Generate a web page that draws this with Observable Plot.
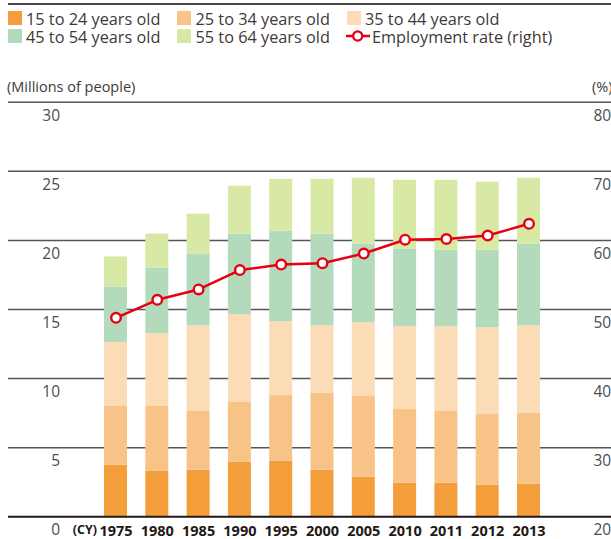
<!DOCTYPE html>
<html>
<head>
<meta charset="utf-8">
<script src="https://cdn.jsdelivr.net/npm/d3@7"></script>
<script src="https://cdn.jsdelivr.net/npm/@observablehq/plot@0.6"></script>
<style>
  html, body { margin: 0; padding: 0; background: #fff; overflow: hidden; }
  body { font-family: 'Open Sans', sans-serif; color: #3e3a39; }
  #wrap { position: relative; width: 611px; height: 539px; }
  #legend { position: relative; width: 611px; height: 60px; }
  .topline { position: absolute; left: 8px; right: 0; top: 3.4px; height: 2px; background: #4a4a4a; }
  .sw { position: absolute; width: 14px; height: 14px; }
  .lt { position: absolute; font-size: 16.3px; line-height: 1; white-space: nowrap; color: #3e3a39; }
  .hdr { position: absolute; font-size: 14.5px; line-height: 1; white-space: nowrap; color: #3e3a39; }
  #chart { position: absolute; left: 0; top: 60px; }
  .cy { position: absolute; font-size: 12.5px; font-weight: bold; line-height: 1; color: #231815; white-space: nowrap; }
</style>
</head>
<body>
<div id="wrap">
  <div id="legend"></div>
  <div id="chart"></div>
</div>
<script>
// ---- data ----
const years = ["1975","1980","1985","1990","1995","2000","2005","2010","2011","2012","2013"];
const groups = ["15 to 24 years old","25 to 34 years old","35 to 44 years old","45 to 54 years old","55 to 64 years old"];
const age15to24 = [3.73,3.29,3.37,3.94,4.01,3.37,2.86,2.43,2.43,2.28,2.36];
const age25to34 = [4.25,4.69,4.25,4.33,4.76,5.55,5.84,5.33,5.19,5.12,5.12];
const age35to44 = [4.62,5.27,6.20,6.35,5.34,4.90,5.34,5.99,6.13,6.28,6.34];
const age45to54 = [4.03,4.75,5.19,5.84,6.56,6.64,5.70,5.63,5.55,5.62,5.92];
const age55to64 = [2.17,2.46,2.89,3.46,3.75,3.96,4.76,4.97,5.05,4.91,4.76];
const employmentRate = [48.8,51.4,52.9,55.7,56.5,56.7,58.1,60.1,60.2,60.7,62.4];
const leftTicks = [0,5,10,15,20,25,30];
const leftTickLabels = ["0","5","10","15","20","25","30"];
const rightTickLabels = ["20","30","40","50","60","70","80"];
const rateLabel = "Employment rate (right)";
const leftUnit = "(Millions of people)";
const rightUnit = "(%)";
const xUnit = "(CY)";

// ---- styles ----
const colors = ["#f39d3b","#f8c387","#fcdcb6","#b3dabb","#d8e8a5"];
const red = "#e60012";

const series = [age15to24, age25to34, age35to44, age45to54, age55to64];
const barData = [];
years.forEach((y, i) => {
  series.forEach((s, g) => barData.push({year: y, group: groups[g], value: s[i]}));
});
const rateData = years.map((y, i) => ({year: y, rate: employmentRate[i]}));
// right axis 20..80 % mapped onto left 0..30
const toLeft = r => (r - 20) / 2;

// ---- legend ----
const legend = document.getElementById("legend");
legend.innerHTML = '<div class="topline"></div>';
const cols = [{sq: 8, tx: 26}, {sq: 177, tx: 195.5}, {sq: 347, tx: 365}];
const rows = [{sq: 10.8, tx: 11.0}, {sq: 29.3, tx: 29.0}];
const items = groups.map((g, i) => ({label: g, color: colors[i]}));
items.push({label: rateLabel, line: true});
items.forEach((it, i) => {
  const c = cols[i % 3], r = rows[Math.floor(i / 3)];
  if (it.line) {
    const s = document.createElementNS("http://www.w3.org/2000/svg", "svg");
    s.setAttribute("width", 26); s.setAttribute("height", 16);
    s.style.position = "absolute"; s.style.left = (c.sq - 1) + "px"; s.style.top = (r.sq - 1) + "px";
    s.innerHTML = `<line x1="0" x2="24" y1="8" y2="8" stroke="${red}" stroke-width="2.5"/>` +
      `<circle cx="11.7" cy="8" r="4.6" fill="#fff" stroke="${red}" stroke-width="2.4"/>`;
    legend.appendChild(s);
    const t = document.createElement("div");
    t.className = "lt"; t.textContent = it.label;
    t.style.left = (c.tx + 7) + "px"; t.style.top = r.tx + "px";
    legend.appendChild(t);
  } else {
    const sq = document.createElement("div");
    sq.className = "sw"; sq.style.background = it.color;
    sq.style.left = c.sq + "px"; sq.style.top = r.sq + "px";
    legend.appendChild(sq);
    const t = document.createElement("div");
    t.className = "lt"; t.textContent = it.label;
    t.style.left = c.tx + "px"; t.style.top = r.tx + "px";
    legend.appendChild(t);
  }
});

// ---- chart ----
const chart = Plot.plot({
  width: 611,
  height: 479,
  marginTop: 41.7,
  marginBottom: 22.7,
  marginLeft: 8,
  marginRight: 0,
  style: {fontFamily: "'Open Sans', sans-serif", background: "transparent", overflow: "visible"},
  x: {type: "band", domain: years, range: [104, 540], paddingInner: 0.443, paddingOuter: 0, align: 0.5, round: false},
  y: {domain: [0, 30]},
  color: {type: "ordinal", domain: groups, range: colors},
  marks: [
    Plot.ruleY(leftTicks.filter(d => d > 0), {stroke: "#555", strokeWidth: 1.5}),
    Plot.barY(barData, {x: "year", y: "value", fill: "group"}),
    Plot.ruleY([0], {stroke: "#231815", strokeWidth: 2}),
    Plot.line(rateData, {x: "year", y: d => toLeft(d.rate), stroke: red, strokeWidth: 2.5}),
    Plot.dot(rateData, {x: "year", y: d => toLeft(d.rate), r: 4.8, fill: "#fff", stroke: red, strokeWidth: 2.4}),
    Plot.axisY(leftTicks, {anchor: "left", tickSize: 0, tickPadding: 0, dx: 51.5, dy: 13.5,
      tickFormat: (d, i) => leftTickLabels[i], fontSize: 15.5, fill: "#4d4d4d", textAnchor: "end", label: null}),
    Plot.axisY(leftTicks, {anchor: "right", tickSize: 0, tickPadding: 0, dx: -18, dy: 13.5,
      tickFormat: (d, i) => rightTickLabels[i], fontSize: 15.5, fill: "#4d4d4d", textAnchor: "start", label: null}),
    Plot.axisX({anchor: "bottom", tickSize: 0, tickPadding: 9, fontSize: 14.5, fontWeight: "bold", fill: "#231815", label: null})
  ]
});
document.getElementById("chart").appendChild(chart);

// header units
const wrap = document.getElementById("wrap");
const h1 = document.createElement("div");
h1.className = "hdr"; h1.textContent = leftUnit; h1.style.left = "7px"; h1.style.top = "80.2px";
wrap.appendChild(h1);
const h2 = document.createElement("div");
h2.className = "hdr"; h2.textContent = rightUnit; h2.style.left = "592px"; h2.style.top = "80.2px";
wrap.appendChild(h2);
const cy = document.createElement("div");
cy.className = "cy"; cy.textContent = xUnit; cy.style.right = (611 - 97) + "px"; cy.style.top = "523.9px";
wrap.appendChild(cy);
</script>
</body>
</html>
